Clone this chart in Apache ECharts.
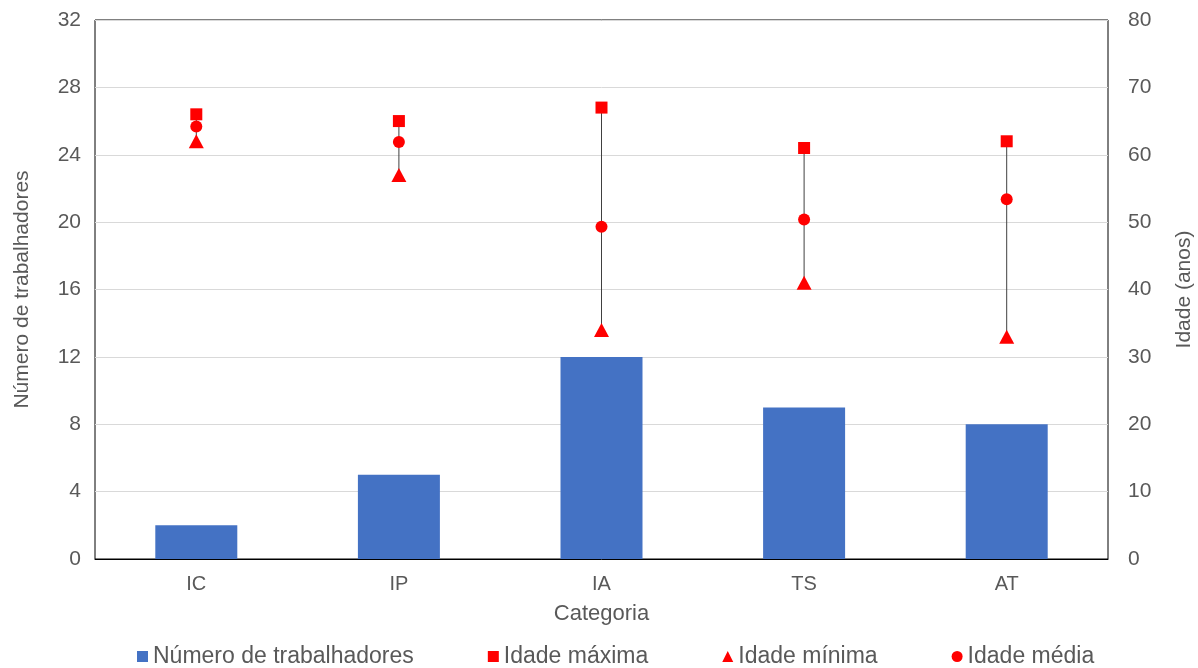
<!DOCTYPE html>
<html>
<head>
<meta charset="utf-8">
<script src="https://cdn.jsdelivr.net/npm/echarts@6/dist/echarts.min.js"></script>
<style>
html,body{margin:0;padding:0;background:#fff;}
#chart{width:1198px;height:668px;}
</style>
</head>
<body>
<div id="chart"></div>
<script>
const categories = ['IC', 'IP', 'IA', 'TS', 'AT'];
const workers = [2, 5, 12, 9, 8];
const ageMax = [66, 65, 67, 61, 62];
const ageMin = [62, 57, 34, 41, 33];
const ageMean = [64.2, 61.9, 49.3, 50.4, 53.4];
const leftTicks = { min: 0, max: 32, interval: 4 };
const rightTicks = { min: 0, max: 80, interval: 10 };

const textColor = '#595959';
const font = 'Liberation Sans, Arial, sans-serif';

const chart = echarts.init(document.getElementById('chart'), null, { renderer: 'canvas' });

const rangeData = categories.map((c, i) => [i, ageMin[i], ageMax[i]]);

chart.setOption({
  animation: false,
  textStyle: { fontFamily: font, color: textColor },
  grid: {
    left: 95, right: 90, top: 20, bottom: 109,
    outerBoundsMode: 'none',
    containLabel: false,
    show: true, borderColor: '#000', borderWidth: 1, backgroundColor: 'transparent'
  },
  legend: {
    top: 645, left: 137,
    padding: 0,
    itemWidth: 11, itemHeight: 11, itemGap: 74,
    textStyle: { fontFamily: font, fontSize: 23, color: textColor },
    data: [
      { name: 'Número de trabalhadores', icon: 'rect', itemStyle: { color: '#4472C4' } },
      { name: 'Idade máxima', icon: 'rect' },
      { name: 'Idade mínima', icon: 'triangle' },
      { name: 'Idade média', icon: 'circle' }
    ]
  },
  xAxis: {
    type: 'category',
    data: categories,
    name: 'Categoria',
    nameLocation: 'middle',
    nameGap: 44,
    nameTextStyle: { fontSize: 22, color: textColor, fontFamily: font },
    axisLine: { show: true, lineStyle: { color: '#000' } },
    axisTick: { show: false },
    axisLabel: { fontSize: 20, color: textColor, margin: 15, fontFamily: font },
    splitLine: { show: false }
  },
  yAxis: [
    {
      type: 'value',
      min: leftTicks.min, max: leftTicks.max, interval: leftTicks.interval,
      name: 'Número de trabalhadores',
      nameLocation: 'middle',
      nameGap: 62,
      nameTextStyle: { fontSize: 21, color: textColor, fontFamily: font },
      axisLine: { show: false },
      axisTick: { show: false },
      axisLabel: { fontSize: 21, color: textColor, margin: 14, fontFamily: font },
      splitLine: { show: true, lineStyle: { color: '#d9d9d9', width: 1 } }
    },
    {
      type: 'value',
      min: rightTicks.min, max: rightTicks.max, interval: rightTicks.interval,
      name: 'Idade (anos)',
      nameLocation: 'middle',
      nameGap: 66,
      nameRotate: 90,
      nameTextStyle: { fontSize: 21, color: textColor, fontFamily: font },
      axisLine: { show: false },
      axisTick: { show: false },
      axisLabel: { fontSize: 21, color: textColor, margin: 20, fontFamily: font },
      splitLine: { show: false }
    }
  ],
  series: [
    {
      name: 'Número de trabalhadores',
      type: 'bar',
      data: workers,
      barWidth: 82,
      itemStyle: { color: '#4472C4' },
      yAxisIndex: 0
    },
    {
      name: 'range',
      type: 'custom',
      yAxisIndex: 1,
      data: rangeData,
      z: 3,
      renderItem: function (params, api) {
        const p1 = api.coord([api.value(0), api.value(1)]);
        const p2 = api.coord([api.value(0), api.value(2)]);
        return {
          type: 'line',
          shape: { x1: p1[0], y1: p1[1], x2: p2[0], y2: p2[1] },
          style: { stroke: '#404040', lineWidth: 1 }
        };
      },
      silent: true
    },
    {
      name: 'Idade máxima',
      type: 'scatter',
      yAxisIndex: 1,
      data: ageMax,
      symbol: 'rect',
      symbolSize: 12,
      itemStyle: { color: '#FF0000', opacity: 1 },
      z: 5
    },
    {
      name: 'Idade mínima',
      type: 'scatter',
      yAxisIndex: 1,
      data: ageMin,
      symbol: 'triangle',
      symbolSize: [15, 14],
      itemStyle: { color: '#FF0000', opacity: 1 },
      z: 5
    },
    {
      name: 'Idade média',
      type: 'scatter',
      yAxisIndex: 1,
      data: ageMean,
      symbol: 'circle',
      symbolSize: 12,
      itemStyle: { color: '#FF0000', opacity: 1 },
      z: 5
    }
  ]
});
</script>
</body>
</html>
